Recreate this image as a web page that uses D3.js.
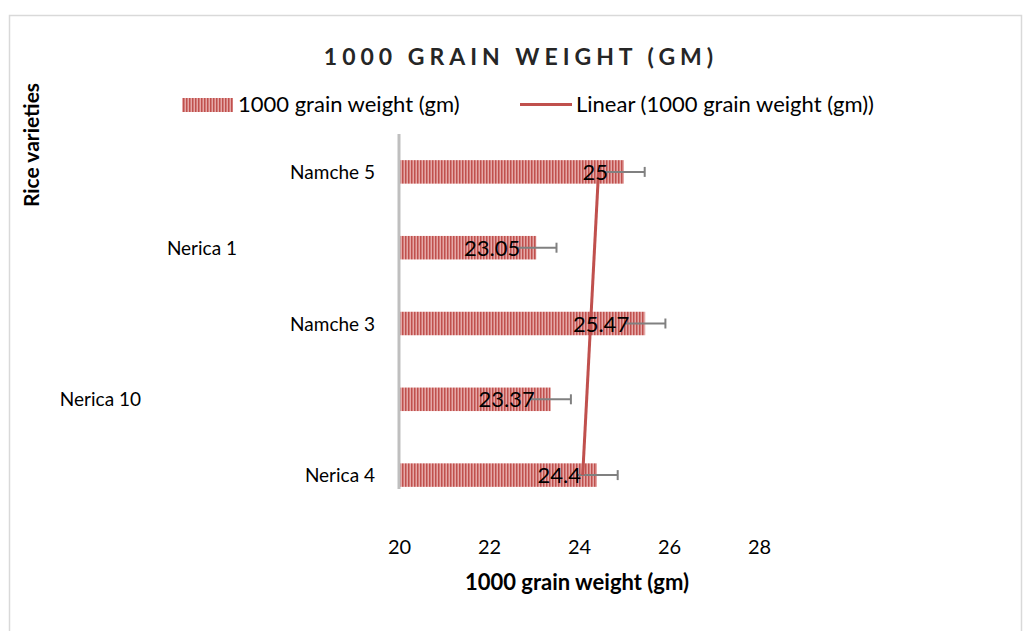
<!DOCTYPE html>
<html>
<head>
<meta charset="utf-8">
<script src="https://cdn.jsdelivr.net/npm/d3@7"></script>
<style>
  body { margin: 0; background: #fff; }
  svg { display: block; font-family: Lato, "Open Sans", sans-serif; }
</style>
</head>
<body>
<svg width="1025" height="631"></svg>
<script>
// values, top category first (as shown)
const varieties = ["Namche 5", "Nerica 1", "Namche 3", "Nerica 10", "Nerica 4"];
const grainWeight = [25, 23.05, 25.47, 23.37, 24.4];
const errorSize = [0.46, 0.45, 0.45, 0.45, 0.46];
const xTicks = [20, 22, 24, 26, 28];

const svg = d3.select("svg");
const red = "#c0504d";

// chart border
svg.append("rect")
  .attr("x", 9.5).attr("y", 15.5)
  .attr("width", 1012).attr("height", 640)
  .attr("fill", "none").attr("stroke", "#d9d9d9").attr("stroke-width", 1.5);

// stripe pattern for bars
const defs = svg.append("defs");
const pat = defs.append("pattern")
  .attr("id", "stripes")
  .attr("patternUnits", "userSpaceOnUse")
  .attr("width", 3).attr("height", 10);
pat.append("rect").attr("width", 3).attr("height", 10).attr("fill", "#e5a8a7");
pat.append("rect").attr("width", 1.5).attr("height", 10).attr("fill", red);

const x = d3.scaleLinear().domain([20, 28]).range([399, 759]);
const y = d3.scaleBand().domain(varieties).range([134, 513]).paddingInner(0.69).paddingOuter(0.345);

// title
svg.append("text")
  .attr("x", 521).attr("y", 65)
  .attr("text-anchor", "middle")
  .attr("font-size", 23).attr("font-weight", "bold")
  .attr("letter-spacing", 5)
  .attr("fill", "#262626")
  .text("1000 GRAIN WEIGHT (GM)");

// legend
svg.append("rect").attr("x", 182).attr("y", 98).attr("width", 51).attr("height", 14).attr("fill", "url(#stripes)");
svg.append("text").attr("x", 238).attr("y", 112).attr("font-size", 22).attr("fill", "#000").text("1000 grain weight (gm)");
svg.append("line").attr("x1", 520).attr("x2", 572).attr("y1", 104.5).attr("y2", 104.5)
  .attr("stroke", red).attr("stroke-width", 3);
svg.append("text").attr("x", 576).attr("y", 112).attr("font-size", 22).attr("fill", "#000").text("Linear (1000 grain weight (gm))");

// bars
svg.append("g").selectAll("rect")
  .data(varieties)
  .join("rect")
    .attr("x", x(20))
    .attr("y", d => y(d))
    .attr("width", (d, i) => x(grainWeight[i]) - x(20))
    .attr("height", y.bandwidth())
    .attr("fill", "url(#stripes)");

// error bars
const eb = svg.append("g").attr("stroke", "#808080").attr("stroke-width", 2);
varieties.forEach((d, i) => {
  const cy = y(d) + y.bandwidth() / 2;
  eb.append("line")
    .attr("x1", x(grainWeight[i] - errorSize[i])).attr("x2", x(grainWeight[i] + errorSize[i]))
    .attr("y1", cy).attr("y2", cy);
  eb.append("line")
    .attr("x1", x(grainWeight[i] + errorSize[i])).attr("x2", x(grainWeight[i] + errorSize[i]))
    .attr("y1", cy - 5).attr("y2", cy + 5);
});

// linear trend (categories numbered from the bottom, like the spreadsheet)
const pts = varieties.map((d, i) => ({ k: varieties.length - i, v: grainWeight[i], d }));
const mk = d3.mean(pts, p => p.k), mv = d3.mean(pts, p => p.v);
const slope = d3.sum(pts, p => (p.k - mk) * (p.v - mv)) / d3.sum(pts, p => (p.k - mk) ** 2);
const icpt = mv - slope * mk;
const first = pts[pts.length - 1], last = pts[0];
svg.append("line")
  .attr("x1", x(icpt + slope * first.k)).attr("y1", y(first.d) + y.bandwidth() / 2)
  .attr("x2", x(icpt + slope * last.k)).attr("y2", y(last.d) + y.bandwidth() / 2)
  .attr("stroke", red).attr("stroke-width", 3);

// data labels
svg.append("g").selectAll("text")
  .data(varieties)
  .join("text")
    .attr("x", (d, i) => x(grainWeight[i]) - 16)
    .attr("y", d => y(d) + y.bandwidth() / 2 + 8)
    .attr("text-anchor", "end")
    .attr("font-size", 22)
    .attr("fill", "#000")
    .text((d, i) => grainWeight[i]);

// category axis line
svg.append("line")
  .attr("x1", x(20)).attr("x2", x(20))
  .attr("y1", 134).attr("y2", 489)
  .attr("stroke", "#bfbfbf").attr("stroke-width", 3);

// category labels (staggered like the original)
const labelShift = [0, 138, 0, 234, 0];
svg.append("g").selectAll("text")
  .data(varieties)
  .join("text")
    .attr("x", (d, i) => 375 - labelShift[i])
    .attr("y", d => y(d) + y.bandwidth() / 2 + 7)
    .attr("text-anchor", "end")
    .attr("font-size", 19)
    .attr("fill", "#000")
    .text(d => d);

// value axis
const xAxis = svg.append("g")
  .attr("transform", "translate(0,513)")
  .call(d3.axisBottom(x).tickValues(xTicks).tickSize(0).tickPadding(27));
xAxis.select(".domain").remove();
xAxis.selectAll("text").attr("font-size", 20).attr("fill", "#000").attr("font-family", "Lato, sans-serif");

svg.append("text")
  .attr("x", 577).attr("y", 590)
  .attr("text-anchor", "middle")
  .attr("font-size", 22).attr("font-weight", "bold")
  .attr("fill", "#000")
  .text("1000 grain weight (gm)");

svg.append("text")
  .attr("transform", "translate(39,145) rotate(-90)")
  .attr("text-anchor", "middle")
  .attr("font-size", 21).attr("font-weight", "bold")
  .attr("fill", "#000")
  .text("Rice varieties");
</script>
</body>
</html>
